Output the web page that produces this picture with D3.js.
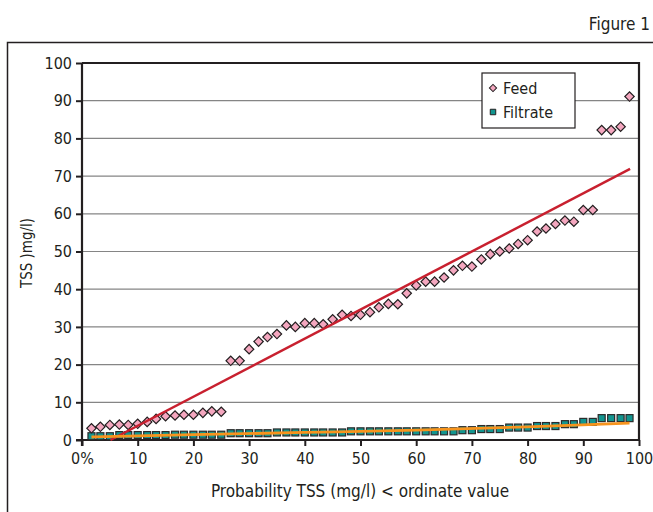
<!DOCTYPE html>
<html>
<head>
<meta charset="utf-8">
<script src="https://cdn.jsdelivr.net/npm/d3@7"></script>
<style>
  body { margin: 0; background: #fff; }
  text { font-family: "DejaVu Sans", sans-serif; font-stretch: condensed; fill: #231f20; }
</style>
</head>
<body>
<div id="chart"></div>
<script>
const width = 653;
const height = 512;

// Données
const probability = [1.7, 3.3, 5.0, 6.7, 8.3, 10.0, 11.7, 13.3, 15.0, 16.7,
  18.3, 20.0, 21.7, 23.3, 25.0, 26.7, 28.3, 30.0, 31.7, 33.3,
  35.0, 36.7, 38.3, 40.0, 41.7, 43.3, 45.0, 46.7, 48.3, 50.0,
  51.7, 53.3, 55.0, 56.7, 58.3, 60.0, 61.7, 63.3, 65.0, 66.7,
  68.3, 70.0, 71.7, 73.3, 75.0, 76.7, 78.3, 80.0, 81.7, 83.3,
  85.0, 86.7, 88.3, 90.0, 91.7, 93.3, 95.0, 96.7, 98.3];

const feed = [3.1, 3.5, 4.0, 4.1, 4.0, 4.3, 4.8, 5.6, 6.3, 6.5,
  6.7, 6.7, 7.2, 7.6, 7.5, 21.0, 21.0, 24.1, 26.1, 27.3,
  28.1, 30.4, 30.0, 31.0, 31.0, 30.7, 32.0, 33.2, 32.9, 33.2,
  33.9, 35.2, 36.1, 36.0, 38.9, 41.0, 42.0, 42.0, 43.1, 45.0,
  46.2, 46.0, 47.9, 49.3, 50.0, 50.8, 52.0, 53.0, 55.3, 56.1,
  57.3, 58.2, 57.9, 61.0, 61.0, 82.2, 82.2, 83.1, 91.1];

const filtrate = [1.0, 1.0, 1.0, 1.3, 1.3, 1.3, 1.3, 1.3, 1.3, 1.4,
  1.4, 1.4, 1.4, 1.4, 1.4, 1.8, 1.8, 1.8, 1.8, 1.8,
  2.0, 2.0, 2.0, 2.0, 2.0, 2.0, 2.0, 2.0, 2.3, 2.3,
  2.3, 2.3, 2.3, 2.3, 2.3, 2.3, 2.3, 2.3, 2.3, 2.3,
  2.6, 2.6, 2.9, 2.9, 2.9, 3.3, 3.3, 3.3, 3.7, 3.7,
  3.7, 4.2, 4.2, 4.8, 4.8, 5.8, 5.8, 5.8, 5.8];

// Droites de tendance
const feedTrendX = [5.1, 98.4];
const feedTrendY = [0, 71.9];
const filtrateTrendX = [1.7, 20, 40, 60, 80, 98.3];
const filtrateTrendY = [0.8, 1.4, 2.0, 2.6, 3.5, 4.5];

const xTicks = [0, 10, 20, 30, 40, 50, 60, 70, 80, 90, 100];
const yTicks = [0, 10, 20, 30, 40, 50, 60, 70, 80, 90, 100];
const seriesNames = ["Feed", "Filtrate"];

const plot = { left: 82, right: 639, top: 63, bottom: 440 };

const svg = d3.select("#chart")
  .append("svg")
  .attr("width", width)
  .attr("height", height);

const x = d3.scaleLinear().domain([0, 100]).range([plot.left, plot.right]);
const y = d3.scaleLinear().domain([0, 100]).range([plot.bottom, plot.top]);

// Cadre extérieur
svg.append("path")
  .attr("d", `M7.5,${height + 2} V42.5 H${width + 2}`)
  .attr("fill", "none")
  .attr("stroke", "#231f20")
  .attr("stroke-width", 1.5);

svg.append("text")
  .attr("x", 650)
  .attr("y", 30)
  .attr("text-anchor", "end")
  .style("font-size", "17px")
  .text("Figure 1");

// Grille
svg.append("g")
  .selectAll("line")
  .data(yTicks.filter(d => d > 0 && d < 100))
  .enter()
  .append("line")
  .attr("x1", plot.left)
  .attr("x2", plot.right)
  .attr("y1", d => y(d))
  .attr("y2", d => y(d))
  .attr("stroke", "#858585")
  .attr("stroke-width", 1.2);

// Bord haut et droit
svg.append("path")
  .attr("d", `M${plot.left},${plot.top} H${plot.right} V${plot.bottom}`)
  .attr("fill", "none")
  .attr("stroke", "#231f20")
  .attr("stroke-width", 2.2);

// Axes
const yAxis = svg.append("g")
  .attr("transform", `translate(${plot.left},0)`)
  .call(d3.axisLeft(y).tickValues(yTicks).tickSize(6).tickPadding(4));
const xAxis = svg.append("g")
  .attr("transform", `translate(0,${plot.bottom})`)
  .call(d3.axisBottom(x).tickValues(xTicks).tickSize(6).tickPadding(7)
    .tickFormat(d => d === 0 ? "0%" : d));

[yAxis, xAxis].forEach(a => {
  a.select(".domain").attr("stroke", "#231f20").attr("stroke-width", 2.2);
  a.selectAll(".tick line").attr("stroke", "#231f20").attr("stroke-width", 2);
  a.selectAll(".tick text")
    .style("font-size", "16px")
    .style("font-family", "\"DejaVu Sans\", sans-serif")
    .style("font-stretch", "condensed")
    .attr("fill", "#231f20");
});
yAxis.select(".domain").attr("d", `M0,${plot.bottom + 6}V${plot.top}`);
xAxis.select(".domain").attr("d", `M${plot.left - 6},0H${plot.right}`);

// Titres des axes
svg.append("text")
  .attr("x", 360)
  .attr("y", 497)
  .attr("text-anchor", "middle")
  .style("font-size", "17px")
  .text("Probability TSS (mg/l) < ordinate value");

svg.append("text")
  .attr("transform", `translate(32,253) rotate(-90)`)
  .attr("text-anchor", "middle")
  .style("font-size", "15px")
  .text("TSS )mg/l)");

const feedData = probability.map((p, i) => ({ p, v: feed[i] }));
const filtrateData = probability.map((p, i) => ({ p, v: filtrate[i] }));

const diamond = d3.symbol().type(d3.symbolSquare).size(44);

// Filtrat
svg.append("g")
  .selectAll("rect")
  .data(filtrateData)
  .enter()
  .append("rect")
  .attr("x", d => x(d.p) - 3.5)
  .attr("y", d => y(d.v) - 3.5)
  .attr("width", 7)
  .attr("height", 7)
  .attr("fill", "#12958f")
  .attr("stroke", "#2b2b2b")
  .attr("stroke-width", 1.2);

// Alimentation
svg.append("g")
  .selectAll("path")
  .data(feedData)
  .enter()
  .append("path")
  .attr("d", diamond)
  .attr("transform", d => `translate(${x(d.p)},${y(d.v)}) rotate(45)`)
  .attr("fill", "#f4a7bf")
  .attr("stroke", "#231f20")
  .attr("stroke-width", 1.2);

const line = d3.line().x(d => x(d[0])).y(d => y(d[1]));

svg.append("path")
  .datum(feedTrendX.map((p, i) => [p, feedTrendY[i]]))
  .attr("d", line)
  .attr("fill", "none")
  .attr("stroke", "#c8202f")
  .attr("stroke-width", 2.5);

svg.append("path")
  .datum(filtrateTrendX.map((p, i) => [p, filtrateTrendY[i]]))
  .attr("d", line.curve(d3.curveMonotoneX))
  .attr("fill", "none")
  .attr("stroke", "#f7941d")
  .attr("stroke-width", 2.8);

// Légende
const legend = svg.append("g").attr("transform", "translate(482,73)");
legend.append("rect")
  .attr("width", 93)
  .attr("height", 55)
  .attr("fill", "#fff")
  .attr("stroke", "#231f20")
  .attr("stroke-width", 1.2);

const items = legend.selectAll("g.item")
  .data(seriesNames)
  .enter()
  .append("g")
  .attr("class", "item")
  .attr("transform", (d, i) => `translate(11,${15 + i * 24})`);

items.append("path")
  .attr("d", (d, i) => i === 0 ? d3.symbol().type(d3.symbolSquare).size(26)() : d3.symbol().type(d3.symbolSquare).size(30)())
  .attr("transform", (d, i) => i === 0 ? "rotate(45)" : null)
  .attr("fill", (d, i) => i === 0 ? "#f4a7bf" : "#12958f")
  .attr("stroke", "#231f20")
  .attr("stroke-width", 1);

items.append("text")
  .attr("x", 10)
  .attr("y", 6)
  .style("font-size", "16px")
  .text(d => d);
</script>
</body>
</html>
